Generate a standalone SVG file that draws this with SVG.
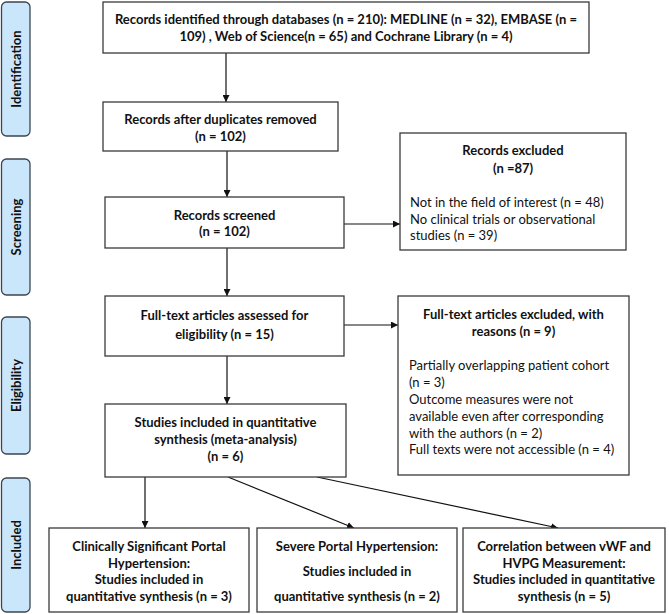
<svg xmlns="http://www.w3.org/2000/svg" width="669" height="614" viewBox="0 0 669 614">
<style>
.box{fill:#fff;stroke:#3a3a3a;stroke-width:1.3}
.side{fill:#c9e6fb;stroke:#3d4650;stroke-width:1.3}
text{font-family:Lato,"Liberation Sans",sans-serif;font-size:13px;fill:#111}
.b{font-weight:bold}
.c{text-anchor:middle}
.conn line{stroke:#111;stroke-width:1.2;marker-end:url(#ah)}
</style>
<defs>
<marker id="ah" viewBox="0 0 10 10" refX="10" refY="5" markerWidth="7" markerHeight="7" markerUnits="userSpaceOnUse" orient="auto">
<path d="M0,0 L10,5 L0,10 z" fill="#111"/>
</marker>
</defs>
<rect width="669" height="614" fill="#fff"/>

<g id="side-identification"><rect class="side" x="1.5" y="2" width="28.5" height="134" rx="5"/><text class="b c" transform="translate(20.5,69) rotate(-90)">Identification</text></g>
<g id="side-screening"><rect class="side" x="1.5" y="159" width="28.5" height="136" rx="5"/><text class="b c" transform="translate(20.5,227) rotate(-90)">Screening</text></g>
<g id="side-eligibility"><rect class="side" x="1.5" y="317" width="28.5" height="137" rx="5"/><text class="b c" transform="translate(20.5,385.5) rotate(-90)">Eligibility</text></g>
<g id="side-included"><rect class="side" x="1.5" y="478" width="28.5" height="134" rx="5"/><text class="b c" transform="translate(20.5,545) rotate(-90)">Included</text></g>

<g class="conn" id="connectors">
<line x1="226" y1="53" x2="226" y2="102"/>
<line x1="227" y1="151" x2="227" y2="197"/>
<line x1="344" y1="224" x2="400" y2="224"/>
<line x1="227" y1="248" x2="227" y2="296"/>
<line x1="344" y1="325" x2="398" y2="325"/>
<line x1="227" y1="356" x2="227" y2="404"/>
<line x1="145" y1="477" x2="145" y2="528"/>
<line x1="228" y1="477" x2="354" y2="528"/>
<line x1="317" y1="477" x2="558" y2="528"/>
</g>

<g id="n-identified"><rect class="box" x="103" y="2" width="486" height="51"/>
<text class="b c" x="346" y="24">Records identified through databases (n = 210): MEDLINE (n = 32), EMBASE (n =</text>
<text class="b c" x="346" y="41">109) , Web of Science(n = 65) and Cochrane Library (n = 4)</text></g>

<g id="n-duplicates"><rect class="box" x="103" y="102" width="235" height="49"/>
<text class="b c" x="220.5" y="124">Records after duplicates removed</text>
<text class="b c" x="220.5" y="141">(n = 102)</text></g>

<g id="n-screened"><rect class="box" x="105" y="197" width="239" height="51"/>
<text class="b c" x="224.5" y="220">Records screened</text>
<text class="b c" x="224.5" y="236">(n = 102)</text></g>

<g id="n-excluded"><rect class="box" x="400" y="133" width="226" height="117"/>
<text class="b c" x="513" y="155">Records excluded</text>
<text class="b c" x="513" y="173">(n =87)</text>
<text x="410" y="207">Not in the field of interest (n = 48)</text>
<text x="410" y="223.5">No clinical trials or observational</text>
<text x="410" y="240">studies (n = 39)</text></g>

<g id="n-fulltext"><rect class="box" x="105" y="296" width="239" height="60"/>
<text class="b c" x="224.5" y="320">Full-text articles assessed for</text>
<text class="b c" x="224.5" y="339">eligibility (n = 15)</text></g>

<g id="n-ft-excluded"><rect class="box" x="398" y="296" width="231" height="179"/>
<text class="b c" x="513.5" y="319">Full-text articles excluded, with</text>
<text class="b c" x="513.5" y="336">reasons (n = 9)</text>
<text x="409" y="370">Partially overlapping patient cohort</text>
<text x="409" y="387">(n = 3)</text>
<text x="409" y="403.5">Outcome measures were not</text>
<text x="409" y="421">available even after corresponding</text>
<text x="409" y="437.5">with the authors (n = 2)</text>
<text x="409" y="454">Full texts were not accessible (n = 4)</text></g>

<g id="n-included"><rect class="box" x="105" y="404" width="241" height="73"/>
<text class="b c" x="225.5" y="427">Studies included in quantitative</text>
<text class="b c" x="225.5" y="444">synthesis (meta-analysis)</text>
<text class="b c" x="225.5" y="461">(n = 6)</text></g>

<g id="n-csph"><rect class="box" x="49" y="528" width="200" height="84"/>
<text class="b c" x="149" y="551">Clinically Significant Portal</text>
<text class="b c" x="149" y="567.5">Hypertension:</text>
<text class="b c" x="149" y="584">Studies included in</text>
<text class="b c" x="149" y="601">quantitative synthesis (n = 3)</text></g>

<g id="n-sph"><rect class="box" x="257" y="528" width="200" height="84"/>
<text class="b c" x="357" y="551">Severe Portal Hypertension:</text>
<text class="b c" x="357" y="576">Studies included in</text>
<text class="b c" x="357" y="601">quantitative synthesis (n = 2)</text></g>

<g id="n-corr"><rect class="box" x="463" y="528" width="202" height="84"/>
<text class="b c" x="564" y="551">Correlation between vWF and</text>
<text class="b c" x="564" y="567.5">HVPG Measurement:</text>
<text class="b c" x="564" y="584">Studies included in quantitative</text>
<text class="b c" x="564" y="601">synthesis (n = 5)</text></g>
</svg>
